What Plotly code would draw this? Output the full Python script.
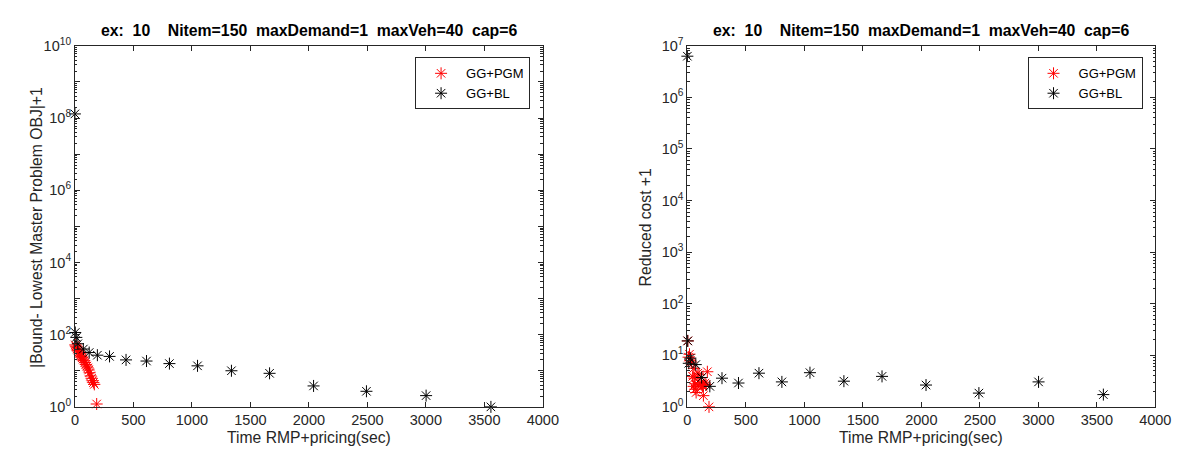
import plotly.graph_objects as go

W, H = 1181, 452

# ---------------- data ----------------
# GG+BL (black) : time (sec) and values
bl_time = [0, 3, 12, 25, 72, 122, 192, 296, 437, 612, 808, 1048, 1338, 1664, 2040, 2492, 3002, 3556]
bl_gap = [1.3e8, 115, 84, 56, 40, 32, 27, 25, 20, 18.6, 15.8, 13.7, 10, 8.5, 3.8, 2.7, 2.05, 1.0]
bl_rc = [6.3e6, 19, 7, 8.8, 6.6, 3.7, 2.5, 3.6, 2.9, 4.5, 3.05, 4.6, 3.15, 3.9, 2.65, 1.85, 3.05, 1.73]

# GG+PGM (red) : left panel
pgm_time = [3, 8, 14, 20, 27, 34, 41, 48, 55, 62, 70, 78, 86, 94, 102, 110, 118, 126, 134, 142, 150, 158, 166, 186]
pgm_gap = [52, 48, 45, 40, 36, 33, 30, 27, 25, 23, 21, 19, 17, 15, 13.5, 12, 10.5, 8.8, 7.2, 6.2, 5.3, 4.7, 4.2, 1.2]

# GG+PGM (red) : right panel
pgm_rc_time = [4, 10, 18, 25, 34, 45, 53, 55, 60, 67, 67, 75, 90, 90, 100, 109, 120, 130, 137, 137, 151, 160, 171, 185]
pgm_rc = [19, 9.2, 10.5, 8, 7.4, 3.9, 2.5, 5.6, 3.6, 2.2, 2.8, 1.9, 4.5, 2.65, 4.2, 2.9, 2.7, 2.5, 2.65, 1.65, 2.9, 2.7, 4.8, 1.0]

title_text = "ex:  10    Nitem=150  maxDemand=1  maxVeh=40  cap=6"
xlabel = "Time RMP+pricing(sec)"
ylabel_left = "|Bound- Lowest Master Problem OBJ|+1"
ylabel_right = "Reduced cost +1"
names = ["GG+PGM", "GG+BL"]

# ---------------- figure ----------------
FONT = "Liberation Sans, Arial, Helvetica, sans-serif"
AX = "#262626"

fig = go.Figure()


def stars(x, y, color, name, xa, ya, legend):
    return go.Scatter(
        x=x, y=y, mode="markers", name=name, xaxis=xa, yaxis=ya, legend=legend,
        marker=dict(symbol="asterisk-open", size=10, color=color,
                    line=dict(color=color, width=1)),
        cliponaxis=False, showlegend=True,
    )


fig.add_trace(stars(pgm_time, pgm_gap, "#FF0000", names[0], "x", "y", "legend"))
fig.add_trace(stars(bl_time, bl_gap, "#000000", names[1], "x", "y", "legend"))
fig.add_trace(stars(pgm_rc_time, pgm_rc, "#FF0000", names[0], "x2", "y2", "legend2"))
fig.add_trace(stars(bl_time, bl_rc, "#000000", names[1], "x2", "y2", "legend2"))

x0L, x1L = 64, 540
x0R, x1R = 687, 1163
yT, yB = 29, 405
ydom = [1 - yB / H, 1 - yT / H]

TICKF = dict(family=FONT, size=14.5, color=AX)
LABF = dict(family=FONT, size=15.7, color=AX)

xcommon = dict(
    range=[0, 4000], dtick=500, tick0=0, ticks="inside", ticklen=5, tickcolor=AX,
    showline=True, linecolor=AX, linewidth=1, mirror="ticks",
    showgrid=False, zeroline=False, tickfont=TICKF,
)


def yaxis(ndec, label_every, dom, anchor):
    vals = [10 ** k for k in range(ndec + 1)]
    txt = [("10<sup>%d</sup>" % k) if k % label_every == 0 else "" for k in range(ndec + 1)]
    return dict(
        type="log", range=[0, ndec], domain=dom, anchor=anchor,
        tickmode="array", tickvals=vals, ticktext=txt,
        ticks="inside", ticklen=5, tickcolor=AX,
        minor=dict(ticks="inside", ticklen=2.5, tickcolor=AX, dtick="D1", showgrid=False),
        showline=True, linecolor=AX, linewidth=1, mirror="ticks",
        showgrid=False, zeroline=False, tickfont=TICKF,
    )


legcommon = dict(yanchor="top", y=1 - 41 / H, xanchor="right",
                 bordercolor=AX, borderwidth=1, bgcolor="white",
                 itemwidth=40, tracegroupgap=0,
                 font=dict(family=FONT, size=13, color="#000000"))

fig.update_layout(
    width=W, height=H,
    margin=dict(l=0, r=0, t=0, b=0),
    paper_bgcolor="white", plot_bgcolor="white",
    font=dict(family=FONT, size=14, color=AX),
    xaxis=dict(domain=[x0L / W, x1L / W], anchor="y", **xcommon),
    xaxis2=dict(domain=[x0R / W, x1R / W], anchor="y2", **xcommon),
    yaxis=yaxis(10, 2, ydom, "x"),
    yaxis2=yaxis(7, 1, ydom, "x2"),
    legend=dict(x=527 / W, **legcommon),
    legend2=dict(x=1150 / W, **legcommon),
    showlegend=True,
)

title_html = "<b>%s</b>" % title_text.replace(" ", "\u00a0")
ann = []
for xc in [(x0L + x1L) / 2, (x0R + x1R) / 2]:
    ann.append(dict(text=title_html, x=xc / W, y=1 - 13 / H, xref="paper", yref="paper",
                    xanchor="center", yanchor="middle", showarrow=False,
                    font=dict(family=FONT, size=15.8, color="#000000")))
    ann.append(dict(text=xlabel, x=xc / W, y=1 - 437 / H, xref="paper", yref="paper",
                    xanchor="center", yanchor="middle", showarrow=False, font=LABF))
ann.append(dict(text=ylabel_left, x=25 / W, y=1 - 218 / H, xref="paper", yref="paper",
                xanchor="center", yanchor="middle", textangle=-90, showarrow=False, font=LABF))
ann.append(dict(text=ylabel_right, x=644 / W, y=1 - 218 / H, xref="paper", yref="paper",
                xanchor="center", yanchor="middle", textangle=-90, showarrow=False, font=LABF))
fig.update_layout(annotations=ann)

fig.write_html("out.html")
